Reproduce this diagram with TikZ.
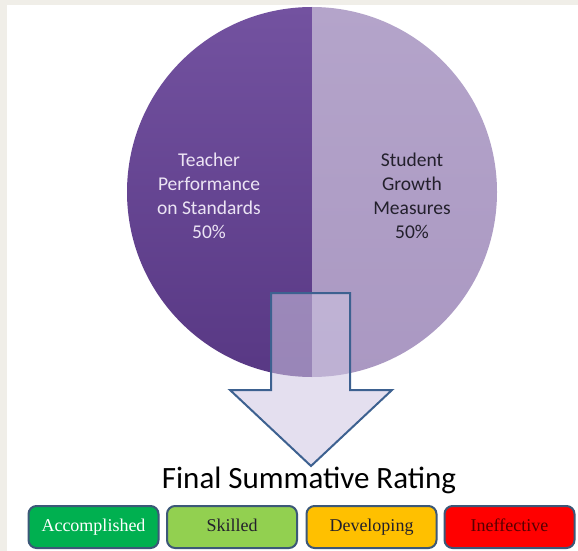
\documentclass[tikz,border=0pt]{standalone}
\usepackage{fontspec}
\setmainfont{Carlito}
\newfontfamily\tnr{Liberation Serif}
\definecolor{framecol}{HTML}{F0EEE8}
\definecolor{darkTop}{HTML}{7352A0}
\definecolor{darkBot}{HTML}{583884}
\definecolor{lightTop}{HTML}{B4A4CA}
\definecolor{lightBot}{HTML}{AA98C2}
\definecolor{arrowFill}{HTML}{CFC6E2}
\definecolor{arrowLine}{HTML}{3D6190}
\definecolor{boxLine}{HTML}{3C5878}
\definecolor{cGreen}{HTML}{00B050}
\definecolor{cLight}{HTML}{92D050}
\definecolor{cAmber}{HTML}{FFC000}
\definecolor{cRed}{HTML}{FF0000}
\definecolor{darkText}{HTML}{23202C}
\definecolor{lavText}{HTML}{ECE4F4}
\definecolor{maroon}{HTML}{580000}
\begin{document}
\begin{tikzpicture}[x=1pt,y=-1pt,
  pietext/.style={align=center, font=\fontsize{19.5}{24}\selectfont},
  rating/.style={draw=boxLine, line width=2pt, rounded corners=8pt,
    minimum width=130pt, minimum height=42pt, inner sep=0pt,
    text height=12pt, text depth=4pt,
    font=\tnr\fontsize{18}{20}\selectfont}]
\useasboundingbox (0,0) rectangle (578,551);
\fill[framecol] (0,0) rectangle (578,551);
\fill[white] (7,5) rectangle (578,551);
% pie halves
\shade[top color=darkTop, bottom color=darkBot]
  (312,7) arc[start angle=-90, end angle=-270, radius=185] -- cycle;
\shade[top color=lightTop, bottom color=lightBot]
  (312,7) arc[start angle=-90, end angle=90, radius=185] -- cycle;
% pie labels
\node[pietext, text=lavText] (teacher) at (209,196)
  {Teacher\\Performance\\on Standards\\50\%};
\node[pietext, text=darkText] (student) at (412,196)
  {Student\\Growth\\Measures\\50\%};
% block arrow
\draw[arrowLine, line width=2pt, line join=miter, fill=arrowFill, fill opacity=0.55]
  (271,293) -- (350,293) -- (350,390) -- (392,390) -- (311,466)
  -- (230,390) -- (271,390) -- cycle;
% title
\node[font=\fontsize{31}{36}\selectfont, text=black] (title) at (309,480)
  {Final Summative Rating};
% rating boxes
\node[rating, fill=cGreen, text=white] (acc) at (93.5,527) {Accomplished};
\node[rating, fill=cLight, text=darkText] (ski) at (232,527) {Skilled};
\node[rating, fill=cAmber, text=darkText] (dev) at (371.5,527) {Developing};
\node[rating, fill=cRed, text=maroon] (ine) at (509.5,527) {Ineffective};
\end{tikzpicture}
\end{document}
